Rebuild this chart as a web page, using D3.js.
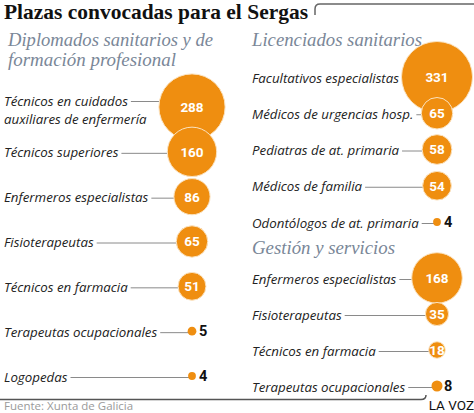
<!DOCTYPE html>
<html><head><meta charset="utf-8">
<script src="https://cdn.jsdelivr.net/npm/d3@7"></script>
<style>
html,body{margin:0;padding:0;background:#fff;}
svg{display:block;}
</style></head>
<body>
<svg id="c" width="474" height="413"></svg>
<script>
const title = "Plazas convocadas para el Sergas";
const groupTitles = ["Diplomados sanitarios y de|formación profesional", "Licenciados sanitarios", "Gestión y servicios"];
const dipCats = ["Técnicos en cuidados|auxiliares de enfermería", "Técnicos superiores", "Enfermeros especialistas", "Fisioterapeutas", "Técnicos en farmacia", "Terapeutas ocupacionales", "Logopedas"];
const dipVals = [288, 160, 86, 65, 51, 5, 4];
const licCats = ["Facultativos especialistas", "Médicos de urgencias hosp.", "Pediatras de at. primaria", "Médicos de familia", "Odontólogos de at. primaria"];
const licVals = [331, 65, 58, 54, 4];
const gesCats = ["Enfermeros especialistas", "Fisioterapeutas", "Técnicos en farmacia", "Terapeutas ocupacionales"];
const gesVals = [168, 35, 18, 8];
const source = "Fuente: Xunta de Galicia";
const brand = "LA VOZ";

const svg = d3.select("#c");
const ORANGE = "#ef8e10";
const r = d3.scaleSqrt().domain([0, 331]).range([0, 35.5]);

// title
svg.append("text").attr("x", 4).attr("y", 18.5)
  .attr("font-family", "Liberation Serif, serif").attr("font-weight", "bold")
  .attr("font-size", 22).attr("fill", "#111")
  .attr("textLength", 304).attr("lengthAdjust", "spacingAndGlyphs").text(title);

// frame
svg.append("path").attr("d", "M315,15 L315,9 Q315,4 320,4 L474,4")
  .attr("fill", "none").attr("stroke", "#666").attr("stroke-width", 1.5);
svg.append("path").attr("d", "M0,399.5 L421,399.5 Q426,399.5 426,395")
  .attr("fill", "none").attr("stroke", "#555").attr("stroke-width", 1.5);

// subtitles
function subtitle(str, x, y, w) {
  const lines = str.split("|");
  lines.forEach((l, i) => {
    svg.append("text").attr("x", x).attr("y", y + i * 19.5)
      .attr("font-family", "Liberation Serif, serif").attr("font-style", "italic")
      .attr("font-size", 19.5).attr("fill", "#7a8798")
      .attr("textLength", w[i]).attr("lengthAdjust", "spacingAndGlyphs").text(l);
  });
}
subtitle(groupTitles[0], 8, 46, [205, 168]);
subtitle(groupTitles[1], 252, 46, [170]);
subtitle(groupTitles[2], 252, 254, [143]);

const LABEL_FONT = "Open Sans, sans-serif";
function group(cats, vals, x0, cx, y0, y1) {
  const y = d3.scalePoint().domain(cats).range([y0, y1]);
  const g = svg.append("g");
  const rows = cats.map((c, i) => ({c, v: vals[i], y: y(c)}));
  const lab = g.selectAll("g.row").data(rows).join("g").attr("class", "row");
  lab.each(function(d) {
    const sel = d3.select(this);
    const lines = d.c.split("|");
    const off = lines.length > 1 ? -6 : 1;
    let w = 0;
    lines.forEach((l, i) => {
      const t = sel.append("text").attr("x", x0).attr("y", d.y + off + i * 18)
        .attr("dy", "0.35em")
        .attr("font-family", LABEL_FONT).attr("font-style", "italic")
        .attr("font-size", 13.3).attr("fill", "#222").text(l);
      if (i === 0) w = t.node().getComputedTextLength();
    });
    sel.append("line").attr("x1", x0 + w + 3).attr("x2", cx)
      .attr("y1", d.y + off + 0.5).attr("y2", d.y + off + 0.5)
      .attr("stroke", "#8a8a8a").attr("stroke-width", 1);
  });
  g.selectAll("circle").data(rows).join("circle")
    .attr("cx", cx).attr("cy", d => d.y).attr("r", d => r(d.v))
    .attr("fill", ORANGE).attr("stroke", d => d.v >= 10 ? "#fbe3c0" : "none").attr("stroke-width", 1);
  g.selectAll("text.val").data(rows).join("text").attr("class", "val")
    .attr("x", d => d.v >= 10 ? cx : cx + 7)
    .attr("y", d => d.y).attr("dy", "0.36em")
    .attr("text-anchor", d => d.v >= 10 ? "middle" : "start")
    .attr("font-family", "Roboto, sans-serif").attr("font-weight", "bold")
    .attr("font-size", d => d.v >= 10 ? 13.5 : 14.5)
    .attr("fill", d => d.v >= 10 ? "#fff" : "#111").text(d => d.v);
}
group(dipCats, dipVals, 4, 192, 107, 376);
group(licCats, licVals, 252, 437, 77, 222);
group(gesCats, gesVals, 252, 437, 278, 386);

svg.append("text").attr("x", 4).attr("y", 406).attr("dy", "0.35em")
  .attr("font-family", "Open Sans, sans-serif").attr("font-size", 11.5).attr("fill", "#9a9a9a").text(source);
svg.append("text").attr("x", 474).attr("y", 405).attr("dy", "0.35em").attr("text-anchor", "end")
  .attr("font-family", "Roboto, sans-serif").attr("font-size", 13.5).attr("fill", "#111").text(brand);
</script>
</body></html>
